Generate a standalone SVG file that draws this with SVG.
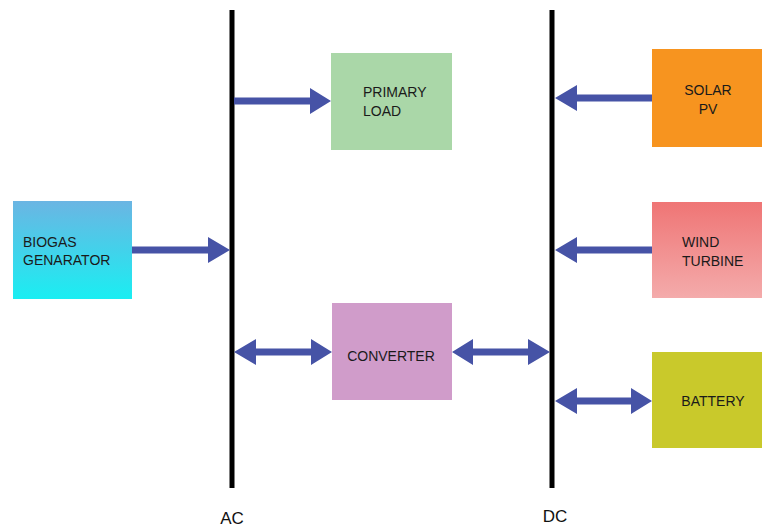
<svg xmlns="http://www.w3.org/2000/svg" width="762" height="529" viewBox="0 0 762 529">
  <style>
    text { font-family: "Liberation Sans", Arial, sans-serif; font-size: 14px; fill: #1a1a1a; }
    .bus { stroke: #000; stroke-width: 5; }
    .arrow { fill: #4653a6; }
    .label { font-size: 17px; fill: #111; }
  </style>
  <defs>
    <linearGradient id="gBio" x1="0" y1="0" x2="0" y2="1">
      <stop offset="0" stop-color="#6bb5e3"/>
      <stop offset="1" stop-color="#1aeef2"/>
    </linearGradient>
    <linearGradient id="gWind" x1="0" y1="0" x2="0" y2="1">
      <stop offset="0" stop-color="#ef7575"/>
      <stop offset="1" stop-color="#f4abab"/>
    </linearGradient>
  </defs>

  <g id="buses">
    <line class="bus" x1="232" y1="10" x2="232" y2="488"/>
    <line class="bus" x1="552" y1="10" x2="552" y2="488"/>
    <text class="label" x="232" y="524" text-anchor="middle">AC</text>
    <text class="label" x="555" y="522" text-anchor="middle">DC</text>
  </g>

  <g id="connectors">
    <!-- biogas -> AC -->
    <path class="arrow" d="M132,246.5 H208 V237 L230,250 L208,263 V253.5 H132 Z"/>
    <!-- AC -> primary load -->
    <path class="arrow" d="M234,97.5 H310 V88 L331,101 L310,114 V104.5 H234 Z"/>
    <!-- solar -> DC -->
    <path class="arrow" d="M652,94.5 H577 V85 L555,98 L577,111 V101.5 H652 Z"/>
    <!-- wind -> DC -->
    <path class="arrow" d="M652,246.5 H577 V237 L555,250 L577,263 V253.5 H652 Z"/>
    <!-- AC <-> converter -->
    <path class="arrow" d="M234,352 L256,339 V348.5 H311 V339 L332,352 L311,365 V355.5 H256 V365 Z"/>
    <!-- converter <-> DC -->
    <path class="arrow" d="M452,352 L473,339 V348.5 H528 V339 L550,352 L528,365 V355.5 H473 V365 Z"/>
    <!-- DC <-> battery -->
    <path class="arrow" d="M555,401 L577,388 V397.5 H631 V388 L652,401 L631,414 V404.5 H577 V414 Z"/>
  </g>

  <g id="biogas">
    <rect x="13" y="201" width="119" height="98" fill="url(#gBio)"/>
    <text x="23" y="247">BIOGAS</text>
    <text x="23" y="265">GENARATOR</text>
  </g>

  <g id="primary-load">
    <rect x="331" y="53" width="121" height="97" fill="#aad7a8"/>
    <text x="363" y="97">PRIMARY</text>
    <text x="363" y="116">LOAD</text>
  </g>

  <g id="solar-pv">
    <rect x="652" y="49" width="110" height="98" fill="#f7941f"/>
    <text x="708" y="95" text-anchor="middle">SOLAR</text>
    <text x="708" y="114" text-anchor="middle">PV</text>
  </g>

  <g id="wind-turbine">
    <rect x="652" y="202" width="110" height="96" fill="url(#gWind)"/>
    <text x="682" y="247">WIND</text>
    <text x="682" y="266">TURBINE</text>
  </g>

  <g id="converter">
    <rect x="332" y="303" width="120" height="97" fill="#d09cca"/>
    <text x="391" y="361" text-anchor="middle">CONVERTER</text>
  </g>

  <g id="battery">
    <rect x="652" y="352" width="110" height="96" fill="#c9c92b"/>
    <text x="713" y="406" text-anchor="middle">BATTERY</text>
  </g>
</svg>
